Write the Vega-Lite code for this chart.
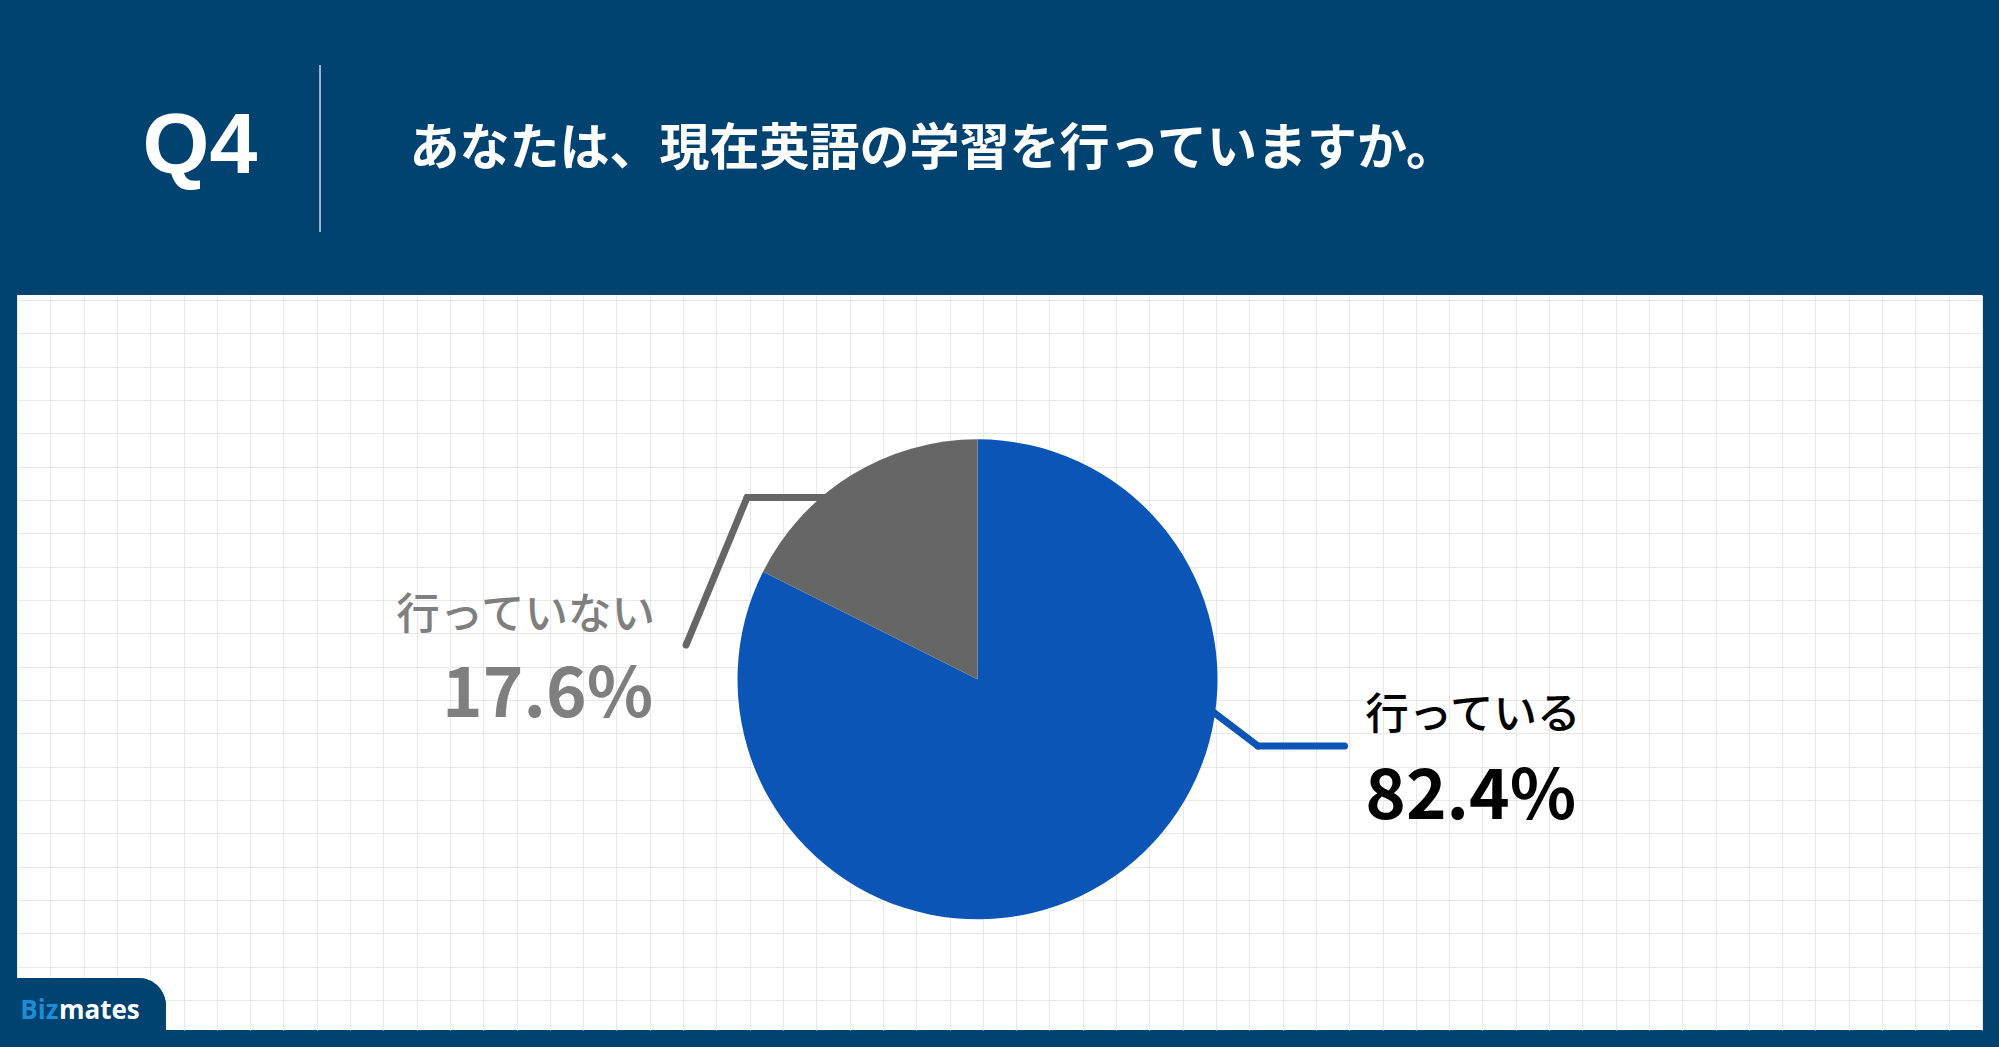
{
  "$schema": "https://vega.github.io/schema/vega-lite/v6.json",
  "width": 1965,
  "height": 735,
  "autosize": {"type": "none"},
  "padding": {"left": 17, "top": 295, "right": 17, "bottom": 17},
  "background": "#004370",
  "config": {
    "view": {"fill": "#ffffff", "stroke": null},
    "font": "Noto Sans CJK JP"
  },
  "resolve": {"axis": {"x": "independent", "y": "independent"}},
  "data": {"values": [
    {"answer": "行っている", "share": 0.824},
    {"answer": "行っていない", "share": 0.176}
  ]},
  "layer": [
    {
      "mark": {"type": "rect", "color": "#004370", "cornerRadiusTopRight": 60},
      "encoding": {
        "x": {"datum": -0.1, "type": "quantitative",
              "scale": {"domain": [0, 59], "nice": false, "zero": false},
              "axis": {"orient": "top", "values": [0,1,2,3,4,5,6,7,8,9,10,11,12,13,14,15,16,17,18,19,20,21,22,23,24,25,26,27,28,29,30,31,32,33,34,35,36,37,38,39,40,41,42,43,44,45,46,47,48,49,50,51,52,53,54,55,56,57,58,59],
                       "grid": true, "gridColor": "#E8E8E8", "gridWidth": 1, "ticks": false, "labels": false, "domain": false,
                       "title": "あなたは、現在英語の学習を行っていますか。",
                       "titleX": 392, "titleY": -131, "titleAlign": "left", "titleAnchor": null, "titleBaseline": "alphabetic",
                       "titleFont": "Noto Sans CJK JP", "titleFontSize": 50, "titleFontWeight": "bold", "titleColor": "#ffffff"}},
        "x2": {"datum": 4.47},
        "y": {"datum": 20.34, "type": "quantitative",
              "scale": {"domain": [-0.15, 21.9], "nice": false, "zero": false, "reverse": true},
              "axis": {"orient": "left", "values": [0,1,2,3,4,5,6,7,8,9,10,11,12,13,14,15,16,17,18,19,20,21],
                       "grid": true, "gridColor": "#E8E8E8", "gridWidth": 1, "ticks": false, "labels": false, "domain": false,
                       "title": "Q4",
                       "titleX": 125, "titleY": -123, "titleAngle": 0, "titleAlign": "left", "titleAnchor": null, "titleBaseline": "alphabetic",
                       "titleFont": "Liberation Sans", "titleFontSize": 86, "titleFontWeight": "bold", "titleColor": "#ffffff"}},
        "y2": {"datum": 22.0}
      }
    },
    {
      "mark": {"type": "rule", "color": "#A9BCCB", "strokeWidth": 1.5, "clip": false},
      "encoding": {
        "x": {"datum": 9.1, "type": "quantitative", "axis": null},
        "y": {"datum": -7.05, "type": "quantitative", "axis": null},
        "y2": {"datum": -2.04}
      }
    },
    {
      "transform": [{"filter": {"field": "answer", "equal": "行っていない"}}],
      "layer": [
        {
          "mark": {"type": "rule", "strokeWidth": 7, "strokeCap": "round"},
          "encoding": {
            "x": {"datum": 24.56, "type": "quantitative", "axis": null},
            "x2": {"datum": 21.92},
            "y": {"datum": 5.925, "type": "quantitative", "axis": null},
            "y2": {"datum": 5.925},
            "color": {"field": "answer", "type": "nominal", "legend": null}
          }
        },
        {
          "mark": {"type": "rule", "strokeWidth": 7, "strokeCap": "round"},
          "encoding": {
            "x": {"datum": 21.92, "type": "quantitative", "axis": null},
            "x2": {"datum": 20.09},
            "y": {"datum": 5.925, "type": "quantitative", "axis": null},
            "y2": {"datum": 10.35},
            "color": {"field": "answer", "type": "nominal", "legend": null}
          }
        }
      ]
    },
    {
      "transform": [{"filter": {"field": "answer", "equal": "行っている"}}],
      "layer": [
        {
          "mark": {"type": "rule", "strokeWidth": 7, "strokeCap": "round"},
          "encoding": {
            "x": {"datum": 35.52, "type": "quantitative", "axis": null},
            "x2": {"datum": 37.26},
            "y": {"datum": 12.06, "type": "quantitative", "axis": null},
            "y2": {"datum": 13.38},
            "color": {"field": "answer", "type": "nominal", "legend": null}
          }
        },
        {
          "mark": {"type": "rule", "strokeWidth": 7, "strokeCap": "round"},
          "encoding": {
            "x": {"datum": 37.26, "type": "quantitative", "axis": null},
            "x2": {"datum": 39.86},
            "y": {"datum": 13.38, "type": "quantitative", "axis": null},
            "y2": {"datum": 13.38},
            "color": {"field": "answer", "type": "nominal", "legend": null}
          }
        }
      ]
    },
    {
      "mark": {"type": "arc", "outerRadius": 240, "stroke": null},
      "encoding": {
        "x": {"datum": 28.84, "type": "quantitative", "axis": null},
        "y": {"datum": 11.379, "type": "quantitative", "axis": null},
        "theta": {"field": "share", "type": "quantitative", "stack": true},
        "order": {"field": "share", "type": "quantitative", "sort": "descending"},
        "color": {"field": "answer", "type": "nominal",
                  "scale": {"domain": ["行っている", "行っていない"], "range": ["#0A55B6", "#666666"]},
                  "legend": null}
      }
    },
    {
      "transform": [{"filter": {"field": "answer", "equal": "行っている"}}],
      "layer": [
        {
          "mark": {"type": "text", "align": "left", "baseline": "alphabetic", "font": "Noto Sans CJK JP", "fontSize": 43.5, "fontWeight": 500, "color": "#000000"},
          "encoding": {
            "x": {"datum": 40.48, "type": "quantitative", "axis": null},
            "y": {"datum": 12.87, "type": "quantitative", "axis": null},
            "text": {"field": "answer", "type": "nominal"}
          }
        },
        {
          "mark": {"type": "text", "align": "left", "baseline": "alphabetic", "font": "Noto Sans CJK JP", "fontSize": 69, "fontWeight": "bold", "color": "#000000"},
          "encoding": {
            "x": {"datum": 40.48, "type": "quantitative", "axis": null},
            "y": {"datum": 15.58, "type": "quantitative", "axis": null},
            "text": {"field": "share", "type": "quantitative", "format": ".1%"}
          }
        }
      ]
    },
    {
      "transform": [{"filter": {"field": "answer", "equal": "行っていない"}}],
      "layer": [
        {
          "mark": {"type": "text", "align": "right", "baseline": "alphabetic", "font": "Noto Sans CJK JP", "fontSize": 43.5, "fontWeight": 500, "color": "#7F7F7F"},
          "encoding": {
            "x": {"datum": 19.16, "type": "quantitative", "axis": null},
            "y": {"datum": 9.87, "type": "quantitative", "axis": null},
            "text": {"field": "answer", "type": "nominal"}
          }
        },
        {
          "mark": {"type": "text", "align": "right", "baseline": "alphabetic", "font": "Noto Sans CJK JP", "fontSize": 69, "fontWeight": "bold", "color": "#7F7F7F"},
          "encoding": {
            "x": {"datum": 19.1, "type": "quantitative", "axis": null},
            "y": {"datum": 12.52, "type": "quantitative", "axis": null},
            "text": {"field": "share", "type": "quantitative", "format": ".1%"}
          }
        }
      ]
    },
    {
      "transform": [{"filter": {"field": "answer", "equal": "行っている"}}],
      "layer": [
        {
          "mark": {"type": "text", "align": "left", "baseline": "alphabetic", "font": "Open Sans", "fontSize": 26, "fontWeight": 700, "color": "#1E8CD6", "text": "Biz"},
          "encoding": {
            "x": {"datum": 0.1, "type": "quantitative", "axis": null},
            "y": {"datum": 21.57, "type": "quantitative", "axis": null}
          }
        },
        {
          "mark": {"type": "text", "align": "left", "baseline": "alphabetic", "font": "Open Sans", "fontSize": 26, "fontWeight": 700, "color": "#ffffff", "text": "mates"},
          "encoding": {
            "x": {"datum": 1.26, "type": "quantitative", "axis": null},
            "y": {"datum": 21.57, "type": "quantitative", "axis": null}
          }
        }
      ]
    }
  ]
}
